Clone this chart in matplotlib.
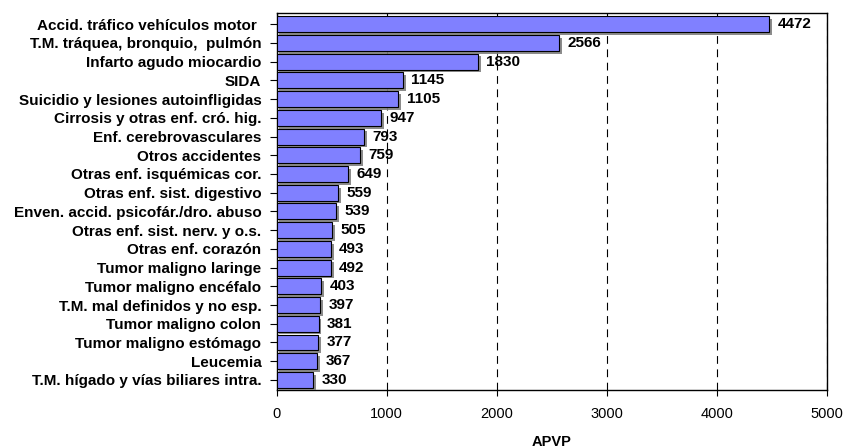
import matplotlib
matplotlib.use('Agg')
import matplotlib.pyplot as plt
import matplotlib.patheffects as pe

plt.rcParams['font.family'] = ['Liberation Sans', 'DejaVu Sans']

causas = [
    'Accid. tráfico vehículos motor ',
    'T.M. tráquea, bronquio,  pulmón',
    'Infarto agudo miocardio',
    'SIDA',
    'Suicidio y lesiones autoinfligidas',
    'Cirrosis y otras enf. cró. hig.',
    'Enf. cerebrovasculares',
    'Otros accidentes',
    'Otras enf. isquémicas cor.',
    'Otras enf. sist. digestivo',
    'Enven. accid. psicofár./dro. abuso',
    'Otras enf. sist. nerv. y o.s.',
    'Otras enf. corazón',
    'Tumor maligno laringe',
    'Tumor maligno encéfalo',
    'T.M. mal definidos y no esp.',
    'Tumor maligno colon',
    'Tumor maligno estómago',
    'Leucemia',
    'T.M. hígado y vías biliares intra.',
]
apvp = [4472, 2566, 1830, 1145, 1105, 947, 793, 759, 649, 559,
        539, 505, 493, 492, 403, 397, 381, 377, 367, 330]

fig = plt.figure(figsize=(8.46, 4.48), dpi=100)
ax = fig.add_axes([0.327, 0.129, 0.651, 0.842])

y = list(range(len(causas)))
bars = ax.barh(y, apvp, height=0.85, color='#8080FF', edgecolor='black',
               linewidth=0.8, zorder=3)
for b in bars:
    b.set_path_effects([pe.SimplePatchShadow(offset=(2, -2), shadow_rgbFace='#808080', alpha=0.9),
                        pe.Normal()])

for yi, v in zip(y, apvp):
    ax.text(v + 75, yi, str(v), va='center', ha='left', fontsize=11,
            fontweight='bold', zorder=4)

ax.set_xlim(0, 5000)
ax.set_ylim(len(causas) - 0.45, -0.6)
ax.set_xticks([0, 1000, 2000, 3000, 4000, 5000])
ax.set_yticks(y)
ax.set_yticklabels(causas, fontsize=11, fontweight='bold')
ax.tick_params(axis='x', labelsize=10.5, direction='out', length=4, pad=8)
ax.tick_params(axis='y', direction='out', length=5, pad=6)
ax.xaxis.grid(True, linestyle=(0, (7, 5)), color='black', linewidth=0.8, zorder=0)
ax.set_axisbelow(True)
ax.set_xlabel('APVP', fontsize=10.5, fontweight='bold', labelpad=10)
for s in ax.spines.values():
    s.set_linewidth(1)

fig.savefig('out.png', dpi=100)
